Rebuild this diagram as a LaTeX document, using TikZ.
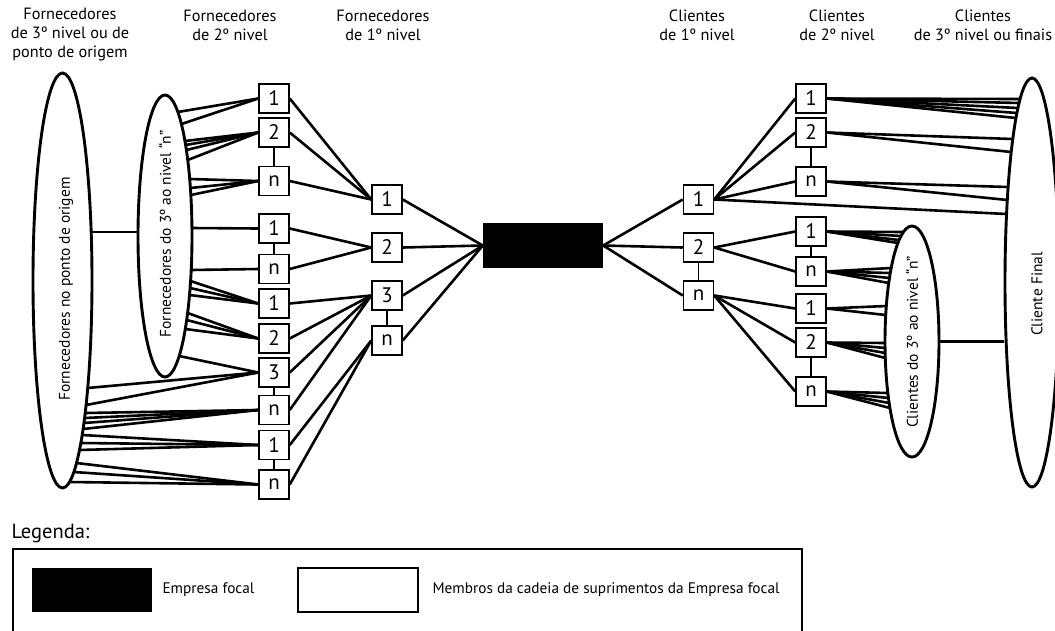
\documentclass[tikz,border=0pt]{standalone}
\usepackage{fontspec}
\setmainfont{PT Sans}
\usetikzlibrary{shapes.geometric}
\newcommand\EP[7]{%
  \pgfmathsetmacro\EPt{(#6-(#3))/(#5)}%
  \pgfmathsetmacro\EPx{#2+(#7)*(#4)*sqrt(max(0,1-(\EPt)*(\EPt)))}%
  \coordinate (#1) at (\EPx,#6);}
\newcommand\onBE[2]{\EP{#1}{62.5}{280.5}{29.5}{207.5}{#2}{1}}
\newcommand\onIE[2]{\EP{#1}{165}{236}{27}{141}{#2}{1}}
\newcommand\onIEl[2]{\EP{#1}{165}{236}{27}{141}{#2}{-1}}
\newcommand\onCF[2]{\EP{#1}{1032}{282.5}{27}{204.5}{#2}{-1}}
\newcommand\onCE[2]{\EP{#1}{912}{341.5}{27}{115.5}{#2}{-1}}
\begin{document}
\begin{tikzpicture}[x=1pt,y=-1pt,
  box/.style={draw, line width=1.5pt, minimum width=30pt, minimum height=29pt,
    inner sep=0pt, fill=white, font=\fontsize{21}{21}\selectfont},
  link/.style={line width=2.6pt},
  stem/.style={line width=1.4pt},
  ell/.style={draw, ellipse, line width=2.9pt, inner sep=0pt, fill=white},
  head/.style={align=center, font=\fontsize{16.3}{18.8}\selectfont},
  etext/.style={rotate=90, font=\fontsize{15.5}{16}\selectfont},
  legt/.style={anchor=west, font=\fontsize{15.3}{16}\selectfont}
]
\useasboundingbox (0,0) rectangle (1055,630);
\clip (0,0) rectangle (1055,630);

% headers
\node[head] (h1t) at (70,34.5) {Fornecedores\\de 3º nivel ou de\\ponto de origem};
\node[head] (h2t) at (230,25.5) {Fornecedores\\de 2º nivel};
\node[head] (h3t) at (383,25.5) {Fornecedores\\de 1º nivel};
\node[head] (h4t) at (697,25.5) {Clientes\\de 1º nivel};
\node[head] (h5t) at (837,25.5) {Clientes\\de 2º nivel};
\node[head] (h6t) at (983,25.5) {Clientes\\de 3º nivel ou finais};

% ellipses
\node[ell, minimum width=59pt, minimum height=415pt] (BE) at (62.5,280.5) {};
\node[ell, minimum width=54pt, minimum height=282pt] (IE) at (165,236) {};
\node[ell, minimum width=54pt, minimum height=409pt] (CF) at (1032,282.5) {};
\node[ell, minimum width=54pt, minimum height=231pt] (CE) at (912,341.5) {};
\node[etext] (BEt) at (66,289) {Fornecedores no ponto de origem};
\node[etext] (IEt) at (165,234) {Fornecedores do 3º ao nivel “n”};
\node[etext] (CEt) at (912,342) {Clientes do 3º ao nivel “n”};
\node[etext] (CFt) at (1037,294) {Cliente Final};

% focal company
\node[fill=black, minimum width=120pt, minimum height=45pt, inner sep=0pt] (F) at (543,245.5) {};

% left level-2 boxes
\foreach \n/\yy/\t in {a1/98.5/1, a2/132.5/2, a3/181/n, b1/228.5/1, b2/269/n,
  c1/303.5/1, c2/338.5/2, c3/372.5/3, c4/410/n, d1/445/1, d2/484.5/n}
  \node[box] (\n) at (274,\yy) {\t};
% left level-1 boxes
\foreach \n/\yy/\t in {f1/199.5/1, f2/247.5/2, f3/295.5/3, f4/340.5/n}
  \node[box] (\n) at (387,\yy) {\t};
% right level-1 boxes
\foreach \n/\yy/\t in {g1/199.5/1, g2/247.5/2, g3/295.5/n}
  \node[box] (\n) at (698.5,\yy) {\t};
% right level-2 boxes
\foreach \n/\yy/\t in {h1/98.5/1, h2/132.5/2, h3/181.5/n, k1/231.5/1, k2/271.5/n,
  m1/308.5/1, m2/342.5/2, m3/391.5/n}
  \node[box] (\n) at (811,\yy) {\t};

% stems between stacked boxes
\foreach \u/\v in {a2/a3, b1/b2, c3/c4, d1/d2, f3/f4, g2/g3, h2/h3, k1/k2, m2/m3}
  \draw[stem] (\u.south) -- (\v.north);

% ellipse to ellipse links
\onBE{be0}{232}
\onIEl{ie0}{232}
\draw[link] (be0) -- (ie0);
\draw[link] (CE.east) -- (CF.west |- CE.east);

% left level-2 to ellipses
\foreach \b/\yy [count=\i] in {a1/112, a1/124, a2/141, a2/145, a2/150, a2/160,
  a3/179, a3/188, a3/195, b1/228, b2/270, c1/281, c1/288, c1/295,
  c2/313, c2/320, c2/329, c3/356}
  {\onIE{ie\i}{\yy} \draw[link] (\b.west) -- (ie\i);}
\foreach \b/\yy [count=\i] in {c3/388, c3/405, c4/413, c4/418, c4/423, c4/429,
  d1/435, d1/443, d1/450, d2/463, d2/472, d2/482}
  {\onBE{be\i}{\yy} \draw[link] (\b.west) -- (be\i);}

% left level-2 to level-1
\foreach \a/\b in {a1/f1, a2/f1, a3/f1, b1/f2, b2/f2, c1/f3, c2/f3, c3/f3, c4/f3, d1/f4, d2/f4}
  \draw[link] (\a.east) -- (\b.west);
% level-1 to focal
\foreach \a in {f1,f2,f3,f4}
  \draw[link] (\a.east) -- (F.west);
\foreach \a in {g1,g2,g3}
  \draw[link] (F.east) -- (\a.west);
% right level-1 to level-2
\foreach \a/\b in {g1/h1, g1/h2, g1/h3, g2/k1, g2/k2, g3/m1, g3/m2, g3/m3}
  \draw[link] (\a.east) -- (\b.west);

% right level-2 to Cliente Final
\foreach \b/\yy [count=\i] in {h1/99, h1/103, h1/108, h1/113, h1/118,
  h2/139, h2/152, h3/187, h3/200, g1/214}
  {\onCF{cf\i}{\yy} \draw[link] (\b.east) -- (cf\i);}
% right level-2 to clientes 3o ao n
\foreach \b/\yy [count=\i] in {k1/232, k1/236, k1/240, k1/243,
  k2/268, k2/273, k2/278, k2/283, m1/306, m1/315,
  m2/343, m2/348, m2/353, m2/358, m3/393, m3/398, m3/403, m3/408}
  {\onCE{ce\i}{\yy} \draw[link] (\b.east) -- (ce\i);}

% legend
\node[anchor=west, font=\fontsize{20.5}{20.5}\selectfont] (leg) at (8,533) {Legenda:};
\draw[line width=1.3pt] (13,640) -- (13,549) -- (802,549) -- (802,640);
\node[fill=black, minimum width=120pt, minimum height=44pt, inner sep=0pt] (lk) at (92,590) {};
\node[legt] (lkt) at (159,590) {Empresa focal};
\node[draw, line width=1.4pt, minimum width=120pt, minimum height=44pt, inner sep=0pt] (lw) at (358,590) {};
\node[legt] (lwt) at (429,590) {Membros da cadeia de suprimentos da Empresa focal};
\end{tikzpicture}
\end{document}
